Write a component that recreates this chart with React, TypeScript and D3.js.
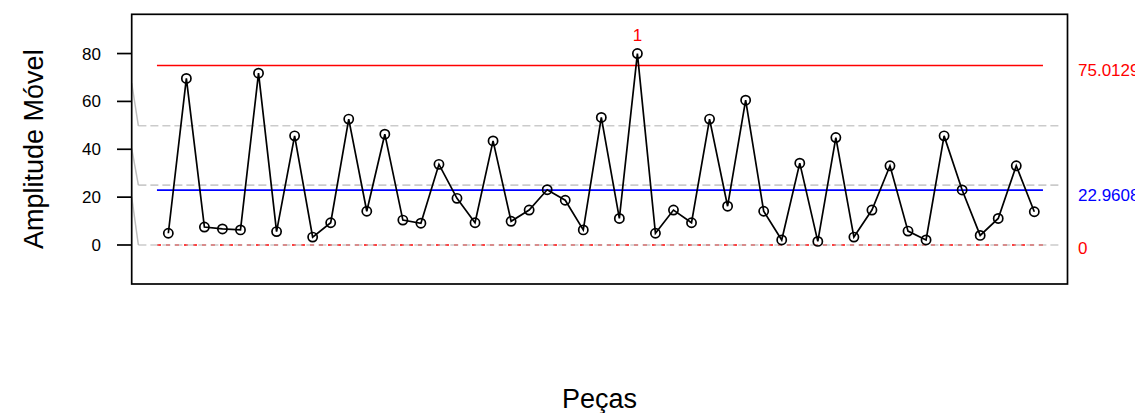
import React from 'react'
import * as d3 from 'd3'

// moving ranges, pieces 2..50
const mr = [
  4.9, 69.6, 7.5, 6.7, 6.3, 71.8, 5.6, 45.6, 3.3, 9.3,
  52.6, 14.1, 46.3, 10.4, 9.1, 33.7, 19.5, 9.3, 43.5, 9.9,
  14.6, 23.1, 18.7, 6.3, 53.3, 11.1, 80.0, 4.9, 14.6, 9.3,
  52.6, 16.2, 60.5, 14.1, 2.1, 34.2, 1.5, 44.9, 3.3, 14.6,
  33.1, 5.8, 2.1, 45.6, 23.0, 4.0, 11.1, 33.1, 13.9
]
const ucl = 75.0129
const center = 22.9608
const lcl = 0
const zoneLines = [49.8, 25.0, 0]
const zoneStarts = [67.6, 40.3, 20]
const yTicks = [0, 20, 40, 60, 80]

const W = 1135
const H = 413
const box = { left: 131.7, right: 1067.5, top: 14.3, bottom: 284 }
const font = '"Liberation Sans", Arial, Helvetica, sans-serif'

const x = d3.scaleLinear().domain([-1.03, 50.84]).range([box.left, box.right])
const y = d3.scaleLinear().domain([-16.3, 96.4]).range([box.bottom, box.top])

const limitFrom = 0.37
const limitTo = 49.48
const zoneFrom = -0.66
const zoneTo = 50.35

export default function App() {
  const pts = mr.map((v, i) => ({ i: i + 1, v }))
  const line = d3.line<{ i: number; v: number }>().x(d => x(d.i)).y(d => y(d.v))
  const hline = (v: number, a: number, b: number) => `M${x(a)},${y(v)}H${x(b)}`
  const violations = pts.filter(p => p.v > ucl || p.v < lcl)

  return (
    <svg width={W} height={H} style={{ position: 'absolute', left: 0, top: 0, background: '#fff' }} fontFamily={font}>
      {/* zone lines */}
      {zoneLines.map((v, k) => (
        <path key={k} d={`M${box.left},${y(zoneStarts[k])}L${x(zoneFrom)},${y(v)}`} stroke="#bebebe" strokeWidth={1.5} fill="none" />
      ))}
      <path d={hline(lcl, limitFrom, limitTo)} stroke="#ff0000" strokeWidth={1.6} strokeDasharray="4,5" />
      {zoneLines.map((v, k) => (
        <path key={k} d={hline(v, zoneFrom, zoneTo)} stroke="#bebebe" strokeOpacity={0.8} strokeWidth={1.6} strokeDasharray="8,4" />
      ))}
      <path d={hline(ucl, limitFrom, limitTo)} stroke="#ff0000" strokeWidth={1.7} />
      <path d={hline(center, limitFrom, limitTo)} stroke="#0000ff" strokeWidth={1.7} />

      {/* data */}
      <path d={line(pts) || ''} fill="none" stroke="#000" strokeWidth={1.7} />
      {pts.map(p => (
        <circle key={p.i} cx={x(p.i)} cy={y(p.v)} r={4.6} fill="none" stroke="#000" strokeWidth={1.7} />
      ))}
      {violations.map(p => (
        <text key={p.i} x={x(p.i)} y={y(p.v) - 12.5} textAnchor="middle" fontSize={17} fill="#ff0000">1</text>
      ))}

      {/* box */}
      <rect x={box.left} y={box.top} width={box.right - box.left} height={box.bottom - box.top} fill="none" stroke="#000" strokeWidth={1.7} />

      {/* y axis */}
      {yTicks.map(t => (
        <g key={t}>
          <line x1={117} x2={box.left} y1={y(t)} y2={y(t)} stroke="#000" strokeWidth={1.7} />
          <text x={101} y={y(t) + 6} textAnchor="end" fontSize={17}>{t}</text>
        </g>
      ))}

      {/* limit labels (clipped by the right edge, as in the original) */}
      <text x={1078} y={y(ucl) + 11} fontSize={17} fill="#ff0000">{ucl}</text>
      <text x={1078} y={y(center) + 11} fontSize={17} fill="#0000ff">{center}</text>
      <text x={1078} y={y(lcl) + 9} fontSize={17} fill="#ff0000">{lcl}</text>

      {/* axis titles */}
      <text transform={`translate(43,${(box.top + box.bottom) / 2}) rotate(-90)`} textAnchor="middle" fontSize={27}>Amplitude Móvel</text>
      <text x={(box.left + box.right) / 2} y={408} textAnchor="middle" fontSize={27}>Peças</text>
    </svg>
  )
}
